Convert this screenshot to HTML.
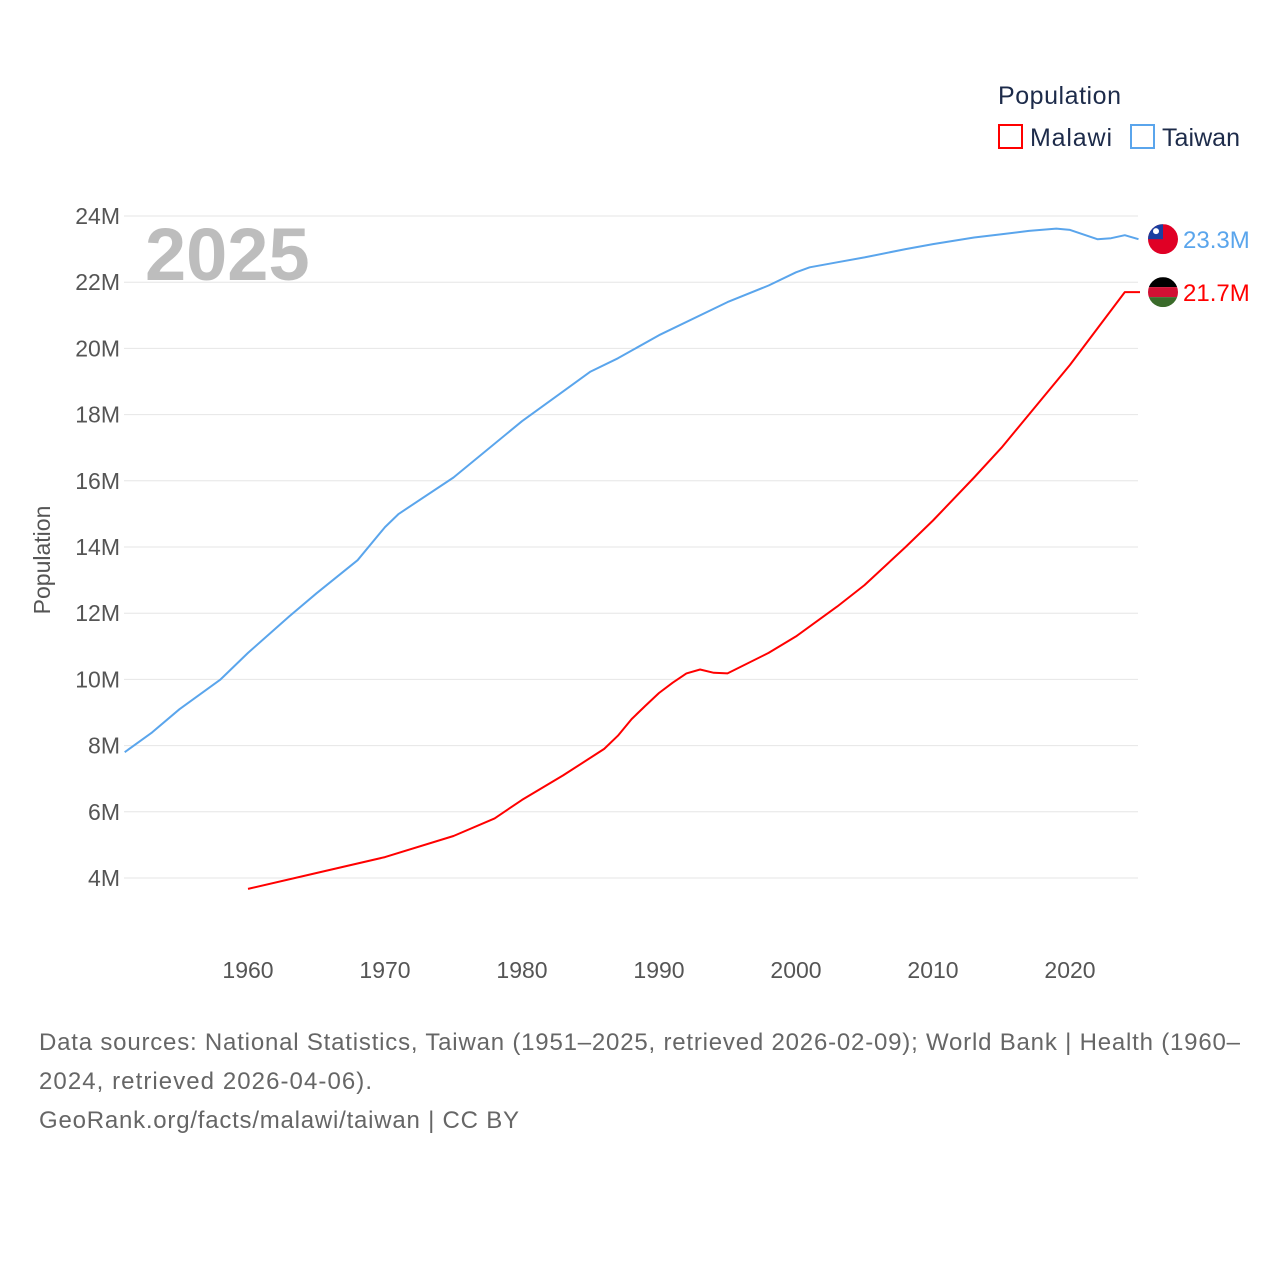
<!DOCTYPE html>
<html><head><meta charset="utf-8"><style>
body{margin:0;background:#fff;width:1280px;height:1280px;overflow:hidden;font-family:"Liberation Sans",sans-serif}
</style></head><body>
<svg id="chart" width="1280" height="1280" xmlns="http://www.w3.org/2000/svg">
<g id="grid"></g><g id="yticks"></g><g id="xticks"></g>
<text x="145" y="280" font-size="74" font-weight="bold" fill="#bdbdbd">2025</text>
<text transform="translate(50,560) rotate(-90)" text-anchor="middle" font-size="23" fill="#555">Population</text>
<g id="lines"></g>
<g>
<text x="998" y="104" font-size="25" fill="#1d2b4a" textLength="123">Population</text>
<rect x="999" y="125" width="23" height="23" fill="none" stroke="#f00" stroke-width="2"/>
<text x="1030" y="146" font-size="25" fill="#1d2b4a" textLength="82">Malawi</text>
<rect x="1131" y="125" width="23" height="23" fill="none" stroke="#5aa5ec" stroke-width="2"/>
<text x="1162" y="146" font-size="25" fill="#1d2b4a" textLength="78">Taiwan</text>
</g>
<g font-size="24" fill="#666">
<text x="39" y="1050" textLength="1201">Data sources: National Statistics, Taiwan (1951–2025, retrieved 2026-02-09); World Bank | Health (1960–</text>
<text x="39" y="1089" textLength="333">2024, retrieved 2026-04-06).</text>
<text x="39" y="1128" textLength="480">GeoRank.org/facts/malawi/taiwan | CC BY</text>
</g>
</svg>
<script>
const yTicks=[4,6,8,10,12,14,16,18,20,22,24];
const xTicks=[1960,1970,1980,1990,2000,2010,2020];
const twYears=[1951,1953,1955,1958,1960,1963,1965,1968,1970,1971,1975,1980,1983,1985,1987,1990,1995,1998,2000,2001,2003,2005,2008,2010,2013,2015,2017,2019,2020,2022,2023,2024,2025];
const twVals=[7.8,8.4,9.1,10.0,10.8,11.9,12.6,13.6,14.6,15.0,16.1,17.8,18.7,19.3,19.7,20.4,21.4,21.9,22.3,22.45,22.6,22.75,23.0,23.15,23.35,23.45,23.55,23.62,23.58,23.3,23.33,23.42,23.3];
const mwYears=[1960,1965,1970,1975,1978,1980,1983,1986,1987,1988,1989,1990,1991,1992,1993,1994,1995,1998,2000,2003,2005,2008,2010,2013,2015,2018,2020,2022,2024];
const mwVals=[3.67,4.15,4.63,5.27,5.8,6.36,7.1,7.9,8.3,8.8,9.2,9.59,9.9,10.18,10.3,10.2,10.18,10.8,11.3,12.2,12.85,14.0,14.8,16.1,17.0,18.5,19.5,20.6,21.7];
const X=y=>248+(y-1960)*13.7, Y=v=>878-(v-4)*33.1;
const NS='http://www.w3.org/2000/svg';
function mk(t,a,p){const e=document.createElementNS(NS,t);for(const k in a)e.setAttribute(k,a[k]);p.appendChild(e);return e;}
const grid=document.getElementById('grid'),yt=document.getElementById('yticks'),xt=document.getElementById('xticks'),ln=document.getElementById('lines');
yTicks.forEach(v=>{
 const l=mk('line',{x1:124,x2:1138,y1:Y(v),y2:Y(v),stroke:'#e6e6e6','stroke-width':1},grid);
 
 
 const t=mk('text',{x:120,y:Y(v)+8,'text-anchor':'end','font-size':23,fill:'#555'},yt);t.textContent=v+'M';
 
 
});
xTicks.forEach(v=>{
 const t=mk('text',{x:X(v),y:978,'text-anchor':'middle','font-size':23,fill:'#555'},xt);t.textContent=v;
 
 
});
function series(ys,vs,col,name,endX){
 let d=ys.map((y,i)=>(i?'L':'M')+X(y).toFixed(1)+','+Y(vs[i]).toFixed(1)).join('');
 if(endX) d+='L'+endX+','+Y(vs[vs.length-1]).toFixed(1);
 const p=mk('path',{d:d,fill:'none',stroke:col,'stroke-width':2,'stroke-linejoin':'round'},ln);
 
 
}
series(twYears,twVals,'#5aa5ec','taiwan');
series(mwYears,mwVals,'#f00','malawi',1140);
const lastTw=twVals[twVals.length-1],lastMw=mwVals[mwVals.length-1];
const fmt=v=>(Math.round(v*10+1e-6)/10).toFixed(1)+'M';
const tf=mk('g',{},ln);


const ty=Y(lastTw);
mk('defs',{},tf).innerHTML='<clipPath id="c1"><circle cx="1163" cy="'+ty+'" r="15"/></clipPath><clipPath id="c2"><circle cx="1163" cy="'+Y(lastMw)+'" r="15"/></clipPath>';
mk('rect',{x:1148,y:ty-15,width:30,height:30,fill:'#e00025','clip-path':'url(#c1)'},tf);
mk('rect',{x:1148,y:ty-15,width:15,height:15,fill:'#1a3fa0','clip-path':'url(#c1)'},tf);
mk('circle',{cx:1156,cy:ty-8,r:3,fill:'#fff'},tf);
const tl=mk('text',{x:1183,y:ty+9,'font-size':24,fill:'#5aa5ec'},ln);tl.textContent=fmt(lastTw);


const my=Y(lastMw);
const mf=mk('g',{},ln);


mk('rect',{x:1148,y:my-15,width:30,height:10,fill:'#000','clip-path':'url(#c2)'},mf);
mk('rect',{x:1148,y:my-5,width:30,height:10,fill:'#d21034','clip-path':'url(#c2)'},mf);
mk('rect',{x:1148,y:my+5,width:30,height:10,fill:'#3a6b2a','clip-path':'url(#c2)'},mf);
const ml=mk('text',{x:1183,y:my+9,'font-size':24,fill:'#f00'},ln);ml.textContent=fmt(lastMw);


</script>
</body></html>
